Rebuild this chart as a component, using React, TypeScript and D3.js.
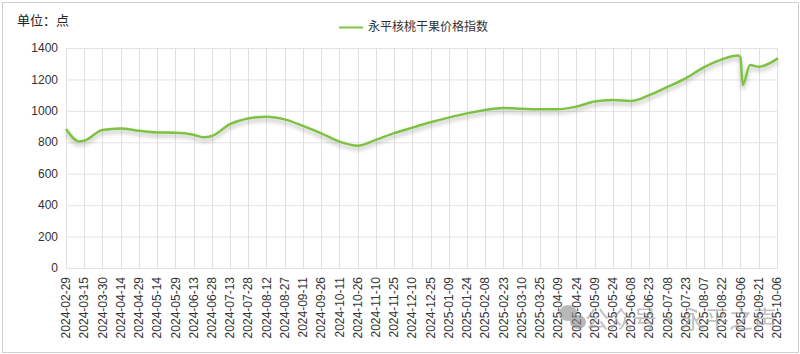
import React, { useEffect, useRef } from 'react';
import * as d3 from 'd3';

// dates of the points
const dates = [
  '2024-02-29', '2024-03-11', '2024-03-15', '2024-03-30', '2024-04-14', '2024-04-29',
  '2024-05-14', '2024-05-29', '2024-06-13', '2024-06-21', '2024-06-28', '2024-07-13',
  '2024-07-28', '2024-08-12', '2024-08-27', '2024-09-11', '2024-09-26', '2024-10-11',
  '2024-10-26', '2024-11-10', '2024-11-25', '2024-12-10', '2024-12-25', '2025-01-09',
  '2025-01-24', '2025-02-08', '2025-02-23', '2025-03-10', '2025-03-25', '2025-04-09',
  '2025-04-24', '2025-05-09', '2025-05-24', '2025-06-08', '2025-06-23', '2025-07-08',
  '2025-07-23', '2025-08-07', '2025-08-22', '2025-09-04', '2025-09-06', '2025-09-08',
  '2025-09-14', '2025-09-21', '2025-10-07',
];
const values = [
  885, 805, 810, 878, 888, 873,
  862, 861, 848, 832, 840, 916,
  952, 963, 946, 904, 857, 804,
  778, 815, 858, 893, 927, 957,
  984, 1005, 1018, 1014, 1010, 1010,
  1027, 1059, 1069, 1063, 1100, 1152,
  1207, 1277, 1328, 1352, 1340, 1165,
  1292, 1280, 1334,
];

const xLabels = [
  '2024-02-29', '2024-03-15', '2024-03-30', '2024-04-14', '2024-04-29', '2024-05-14',
  '2024-05-29', '2024-06-13', '2024-06-28', '2024-07-13', '2024-07-28', '2024-08-12',
  '2024-08-27', '2024-09-11', '2024-09-26', '2024-10-11', '2024-10-26', '2024-11-10',
  '2024-11-25', '2024-12-10', '2024-12-25', '2025-01-09', '2025-01-24', '2025-02-08',
  '2025-02-23', '2025-03-10', '2025-03-25', '2025-04-09', '2025-04-24', '2025-05-09',
  '2025-05-24', '2025-06-08', '2025-06-23', '2025-07-08', '2025-07-23', '2025-08-07',
  '2025-08-22', '2025-09-06', '2025-09-21', '2025-10-06',
];
const yTicks = [0, 200, 400, 600, 800, 1000, 1200, 1400];

const seriesName = '永平核桃干果价格指数';
const unitLabel = '单位：点';
const watermark = '公众号·永平之声';

const FONT = '"Liberation Sans", Arial, "Noto Sans CJK SC", sans-serif';

export default function App() {
  const svgRef = useRef(null);

  useEffect(() => {
    if (!svgRef.current) return;
    const svg = d3.select(svgRef.current);
    svg.selectAll('*').remove();

    const parse = d3.utcParse('%Y-%m-%d');
    const left = 66, right = 778, top = 48, bottom = 268;

    const x = d3.scaleUtc()
      .domain([parse('2024-02-29'), parse('2025-10-07')])
      .range([left, right]);
    const y = d3.scaleLinear().domain([0, 1400]).range([bottom, top]);

    // frame
    svg.append('rect')
      .attr('x', 2.5).attr('y', 2.5)
      .attr('width', 796).attr('height', 350)
      .attr('fill', '#fff')
      .attr('stroke', '#d0d0d0');

    const defs = svg.append('defs');
    const f = defs.append('filter').attr('id', 'shadow')
      .attr('x', '-5%').attr('y', '-20%').attr('width', '110%').attr('height', '160%');
    f.append('feDropShadow')
      .attr('dx', 0).attr('dy', 3).attr('stdDeviation', 2)
      .attr('flood-color', '#000').attr('flood-opacity', 0.28);

    // grid
    svg.append('g').selectAll('line')
      .data(yTicks)
      .join('line')
      .attr('x1', left).attr('x2', right)
      .attr('y1', d => y(d) + 0.5).attr('y2', d => y(d) + 0.5)
      .attr('stroke', '#e3e3e3');

    svg.append('g').selectAll('line')
      .data(xLabels)
      .join('line')
      .attr('x1', d => Math.round(x(parse(d))) + 0.5)
      .attr('x2', d => Math.round(x(parse(d))) + 0.5)
      .attr('y1', top).attr('y2', bottom)
      .attr('stroke', '#e0e0e0');

    // y labels
    svg.append('g').selectAll('text')
      .data(yTicks)
      .join('text')
      .attr('x', 58)
      .attr('y', d => y(d))
      .attr('dy', '0.35em')
      .attr('text-anchor', 'end')
      .attr('font-family', FONT)
      .attr('font-size', 12)
      .attr('fill', '#333')
      .text(d => d);

    // x labels
    svg.append('g').selectAll('text')
      .data(xLabels)
      .join('text')
      .attr('transform', d => `translate(${x(parse(d))},277) rotate(-90)`)
      .attr('dy', '0.35em')
      .attr('text-anchor', 'end')
      .attr('font-family', FONT)
      .attr('font-size', 12)
      .attr('fill', '#333')
      .text(d => d);

    // line
    const pts = dates.map((d, i) => [parse(d), values[i]]);
    const line = d3.line()
      .x(d => x(d[0]))
      .y(d => y(d[1]))
      .curve(d3.curveMonotoneX);

    svg.append('path')
      .datum(pts)
      .attr('fill', 'none')
      .attr('stroke', '#7dc242')
      .attr('stroke-width', 2.5)
      .attr('filter', 'url(#shadow)')
      .attr('d', line);

    // title
    svg.append('text')
      .attr('x', 17).attr('y', 25)
      .attr('font-family', FONT)
      .attr('font-size', 13)
      .attr('fill', '#222')
      .text(unitLabel);

    // legend
    svg.append('line')
      .attr('x1', 339).attr('x2', 363)
      .attr('y1', 27.5).attr('y2', 27.5)
      .attr('stroke', '#7dc242').attr('stroke-width', 2);
    svg.append('text')
      .attr('x', 368).attr('y', 27)
      .attr('dy', '0.35em')
      .attr('font-family', FONT)
      .attr('font-size', 12)
      .attr('fill', '#333')
      .text(seriesName);

    // watermark
    const wm = svg.append('g').attr('opacity', 0.6).attr('fill', '#8a8a8a');
    wm.append('ellipse').attr('cx', 568).attr('cy', 313).attr('rx', 9).attr('ry', 8);
    wm.append('ellipse').attr('cx', 578).attr('cy', 322).attr('rx', 8).attr('ry', 7);
    wm.append('text')
      .attr('x', 585).attr('y', 328)
      .attr('font-family', '"Noto Sans CJK SC", sans-serif')
      .attr('font-size', 24)
      .attr('fill', '#999')
      .text(watermark);
  }, []);

  return (
    <svg
      ref={svgRef}
      width={800}
      height={354}
      style={{ position: 'absolute', left: 0, top: 0, display: 'block' }}
    />
  );
}
